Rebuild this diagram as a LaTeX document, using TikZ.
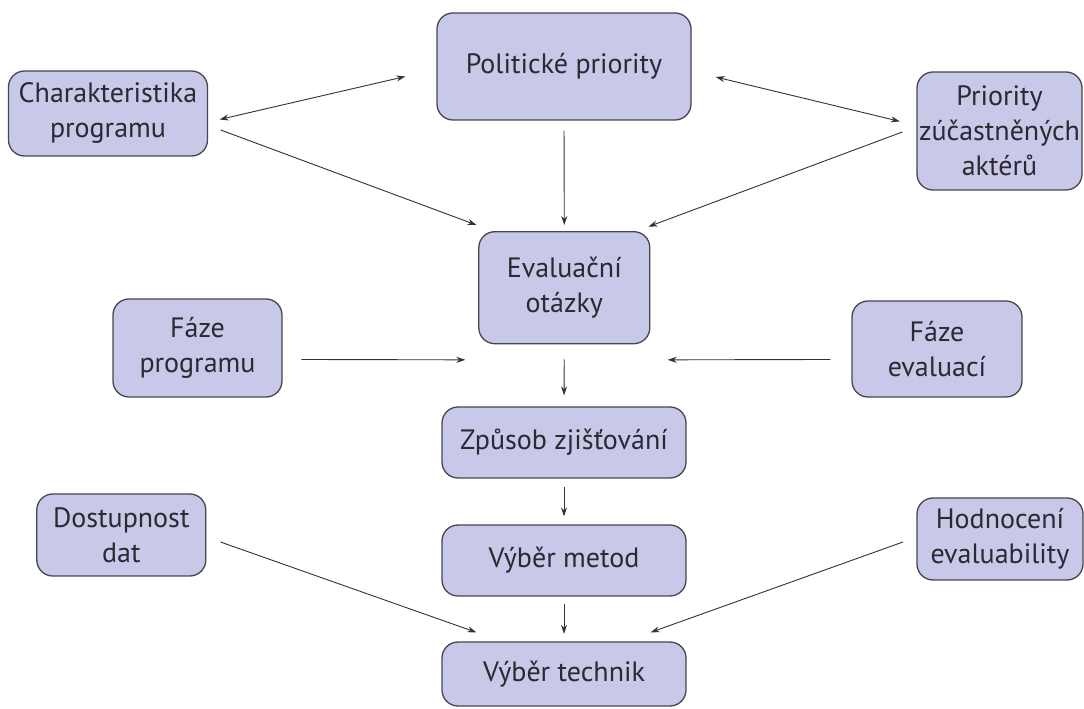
\documentclass[tikz,border=0pt]{standalone}
\usepackage{fontspec}
\setmainfont{PT Sans}
\usetikzlibrary{calc,arrows.meta}
\definecolor{boxfill}{RGB}{200,200,232}
\definecolor{boxline}{RGB}{70,70,80}
\definecolor{txt}{RGB}{45,40,50}
\definecolor{arrcol}{RGB}{50,50,55}
\begin{document}
\begin{tikzpicture}[x=1pt,y=1pt,
  box/.style={draw=boxline, line width=1.3pt, fill=boxfill, rounded corners=16pt,
    align=center, text=txt, font=\fontsize{28}{35}\selectfont, inner sep=0pt},
  arr/.style={draw=arrcol, line width=0.9pt, -{Stealth[length=9pt,width=6pt]}},
  darr/.style={draw=arrcol, line width=0.9pt, {Stealth[length=9pt,width=6pt]}-{Stealth[length=9pt,width=6pt]}}]
\useasboundingbox (0,0) rectangle (1084,709);
\fill[white] (0,0) rectangle (1084,709);

\node[box, minimum width=254, minimum height=107] (pol)  at (564,642.5) {\raisebox{7pt}{Politické priority}};
\node[box, minimum width=199, minimum height=85]  (char) at (108,595.5) {Charakteristika\\programu};
\node[box, minimum width=165, minimum height=118] (prio) at (999.5,578) {Priority\\zúčastněných\\aktérů};
\node[box, minimum width=171, minimum height=112] (eval) at (564.3,421.3) {Evaluační\\otázky};
\node[box, minimum width=169, minimum height=98]  (fp)   at (197.5,361) {Fáze\\programu};
\node[box, minimum width=170, minimum height=96]  (fe)   at (937,360) {Fáze\\evaluací};
\node[box, minimum width=244, minimum height=71]  (zp)   at (564,266.5) {Způsob zjišťování};
\node[box, minimum width=169, minimum height=82]  (dd)   at (121.3,174) {Dostupnost\\dat};
\node[box, minimum width=244, minimum height=71]  (vm)   at (564,148.5) {Výběr metod};
\node[box, minimum width=166, minimum height=82]  (he)   at (1000,170) {Hodnocení\\evaluability};
\node[box, minimum width=244, minimum height=64]  (vt)   at (564,35) {Výběr technik};

% top row connectors
\draw[darr] ($(char.east)+(11.5,-6)$) -- ($(pol.west)+(-31,-10)$);
\draw[darr] ($(pol.east)+(24,-10.5)$) -- ($(prio.west)+(-16.5,9.6)$);
\draw[arr] ($(char.east)+(12.5,-16.5)$) -- ($(eval.north west)+(-1.6,6)$);
\draw[arr] ($(prio.west)+(-14,-1)$) -- ($(eval.north east)+(-2,4.4)$);
\draw[arr, shorten <=10pt, shorten >=6pt] (pol.south) -- (eval.north);

% phases
\draw[arr] ($(fp.east)+(18.6,-11.5)$) -- ($(eval.south)+(-99,-15.5)$);
\draw[arr] ($(fe.west)+(-21,-10.5)$) -- ($(eval.south)+(103.4,-15.5)$);

% central chain
\draw[arr, shorten <=15pt, shorten >=11pt] (eval.south) -- (zp.north);
\draw[arr, shorten <=8pt, shorten >=8pt] (zp.south) -- (vm.north);
\draw[arr, shorten <=7pt, shorten >=7.5pt] (vm.south) -- (vt.north);

% bottom side connectors
\draw[arr] ($(dd.east)+(14,-7)$) -- ($(vt.north west)+(35,9)$);
\draw[arr] ($(he.west)+(-13.4,-3)$) -- ($(vt.north east)+(-36,9)$);
\end{tikzpicture}
\end{document}
